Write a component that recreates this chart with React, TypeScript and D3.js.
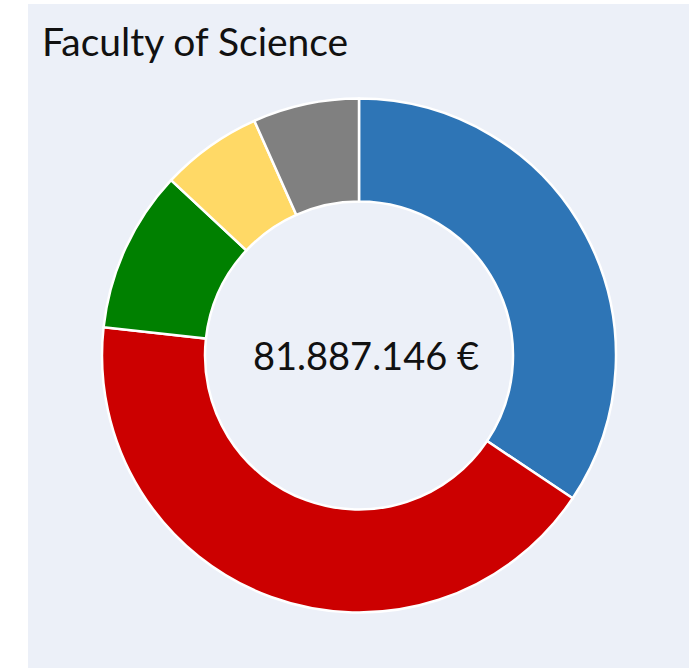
import React from 'react';
import * as d3 from 'd3';

// budget split (€)
const categories = ['Blue', 'Red', 'Green', 'Yellow', 'Gray'];
const amounts = [28150000, 34700000, 8350000, 5220000, 5467146];
const colors = ['#2E75B6', '#CC0000', '#008000', '#FFD966', '#808080'];
const title = 'Faculty of Science';

const width = 697;
const height = 668;
const panel = { x: 28, y: 4, w: 661, h: 680 };
const cx = 359;
const cy = 355.5;
const outerR = 257;
const innerR = 154;

const locale = d3.formatLocale({ decimal: ',', thousands: '.', grouping: [3], currency: ['', ' €'] });
const fmt = locale.format('$,d');

export default function App() {
    const rows = categories.map((c, i) => ({ key: c, value: amounts[i], color: colors[i] }));
    const pie = d3.pie<any>().value((d) => d.value).sort(null);
    const arc = d3.arc<any>().innerRadius(innerR).outerRadius(outerR);
    const arcs = pie(rows);
    const total = d3.sum(amounts);

    return (
        <svg width={width} height={height} style={{ position: 'absolute', left: 0, top: 0 }}>
            <rect x={panel.x} y={panel.y} width={panel.w} height={panel.h} fill="#ECF0F8" />
            <text x={42} y={56} fontFamily="Lato, 'Open Sans', sans-serif" fontSize={39} fill="#111">
                {title}
            </text>
            <g transform={`translate(${cx}, ${cy})`}>
                {arcs.map((a) => (
                    <path key={a.data.key} d={arc(a) as string} fill={a.data.color} stroke="#fff" strokeWidth={2.5} />
                ))}
                <text
                    x={7}
                    y={14}
                    textAnchor="middle"
                    fontFamily="Lato, 'Open Sans', sans-serif"
                    fontSize={38}
                    fill="#111"
                >
                    {fmt(total)}
                </text>
            </g>
        </svg>
    );
}
